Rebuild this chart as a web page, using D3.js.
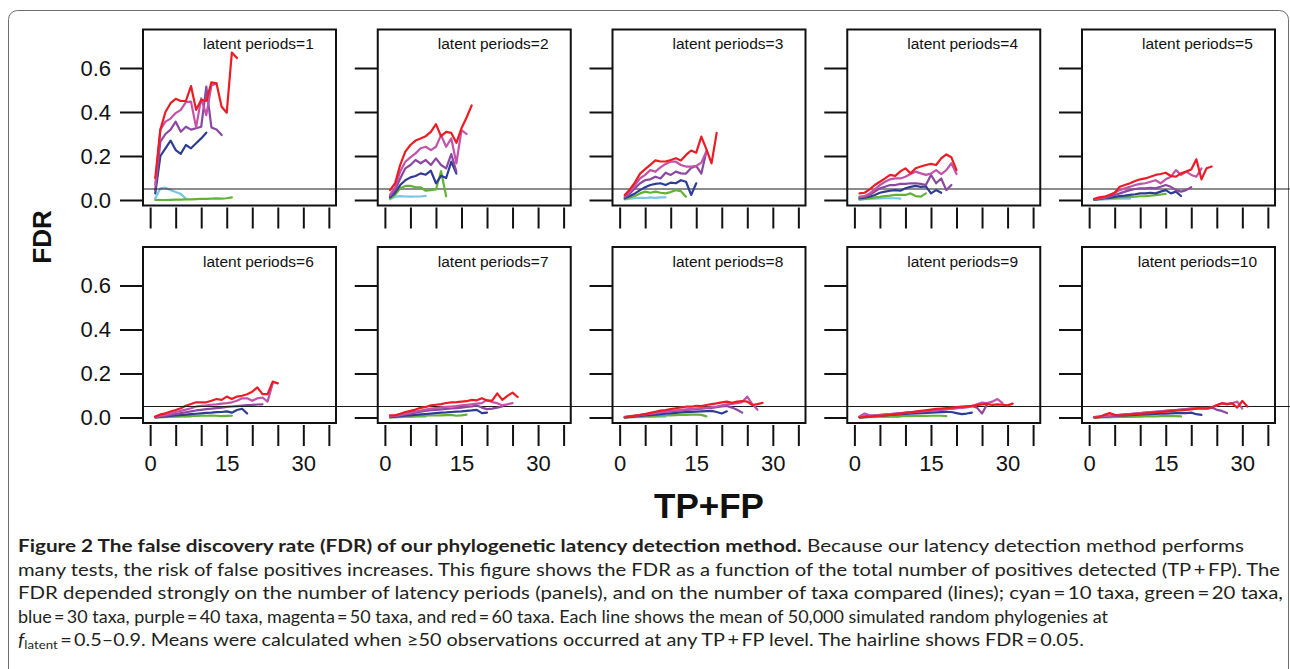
<!DOCTYPE html>
<html><head><meta charset="utf-8">
<script src="https://cdn.jsdelivr.net/npm/d3@7"></script>
<style>body{margin:0;background:#fff}</style>
</head><body>
<svg id="chart" width="1290" height="669"></svg>
<script>
// ---------------- DATA ----------------
const panelLabels = ["latent periods=1","latent periods=2","latent periods=3","latent periods=4","latent periods=5",
                     "latent periods=6","latent periods=7","latent periods=8","latent periods=9","latent periods=10"];
const xTicks = [0,5,10,15,20,25,30,35];
const xTickLabels = ["0","","","15","","","30",""];
const yTicks = [0,0.2,0.4,0.6];
const yTickLabels = ["0.0","0.2","0.4","0.6"];
const hairlineFDR = 0.05;
const firstTPFP = 1; // each series starts at TP+FP = 1, step 1
const seriesOrder = ["cyan","green","blue","purple","magenta","red"];

// FDR values per panel (latent periods 1..10), TP+FP = 1,2,3,...
const cyan = [
  [0.007,0.053,0.056,0.045,0.036,0.028,0.006],
  [0.003,0.015,0.018,0.016,0.015,0.016,0.016,0.019],
  [0.003,0.006,0.008,0.010,0.009,0.012,0.010,0.012,0.012],
  [0.002,0.004,0.005,0.006,0.007,0.008,0.008,0.008,0.006],
  [0.001,0.002,0.003,0.004,0.005,0.006,0.006,0.006],
  [0.001,0.002,0.002,0.003,0.003,0.004,0.004,0.004],
  [0.001,0.002,0.002,0.003,0.003,0.004,0.004,0.004],
  [0.001,0.001,0.002,0.002,0.003,0.003,0.003,0.004,0.004],
  [0.001,0.001,0.002,0.002,0.003,0.003,0.003,0.003,0.004],
  [0.001,0.001,0.002,0.002,0.002,0.003,0.003,0.003,0.003]
];
const green = [
  [0.000,0.000,0.000,0.001,0.002,0.002,0.003,0.003,0.004,0.005,0.005,0.006,0.007,0.006,0.008,0.012],
  [0.008,0.023,0.053,0.064,0.064,0.058,0.058,0.042,0.045,0.048,0.131,0.017],
  [0.005,0.012,0.018,0.030,0.038,0.033,0.038,0.033,0.030,0.036,0.045,0.040,0.015],
  [0.003,0.005,0.008,0.012,0.014,0.018,0.020,0.023,0.023,0.023,0.030,0.018,0.015,0.030],
  [0.002,0.004,0.006,0.008,0.010,0.012,0.013,0.014,0.015,0.017,0.018,0.020,0.022,0.025,0.028],
  [0.000,0.002,0.003,0.004,0.005,0.006,0.006,0.007,0.007,0.008,0.008,0.009,0.008,0.006,0.007,0.008],
  [0.001,0.002,0.003,0.004,0.005,0.006,0.007,0.008,0.009,0.009,0.010,0.011,0.012,0.008,0.010,0.013],
  [0.001,0.002,0.003,0.004,0.005,0.006,0.007,0.008,0.009,0.010,0.011,0.012,0.012,0.013,0.013,0.012,0.005],
  [0.001,0.002,0.003,0.003,0.004,0.004,0.005,0.005,0.006,0.006,0.006,0.007,0.007,0.007,0.008,0.008,0.008,0.006],
  [0.001,0.001,0.002,0.002,0.003,0.003,0.003,0.004,0.004,0.004,0.005,0.005,0.005,0.006,0.006,0.006,0.006,0.005]
];
const blue = [
  [0.030,0.200,0.235,0.270,0.227,0.210,0.250,0.235,0.258,0.280,0.306],
  [0.012,0.033,0.068,0.090,0.103,0.109,0.121,0.115,0.133,0.076,0.110,0.100,0.174,0.120],
  [0.008,0.018,0.030,0.045,0.058,0.068,0.073,0.076,0.068,0.079,0.076,0.090,0.083,0.023,0.076],
  [0.008,0.011,0.015,0.023,0.033,0.038,0.042,0.045,0.042,0.053,0.060,0.064,0.060,0.062,0.030,0.045,0.033],
  [0.002,0.005,0.008,0.010,0.014,0.018,0.020,0.023,0.026,0.030,0.030,0.033,0.030,0.038,0.045,0.030,0.038,0.018],
  [0.001,0.003,0.005,0.007,0.009,0.011,0.013,0.015,0.017,0.019,0.021,0.022,0.024,0.025,0.028,0.022,0.034,0.040,0.018],
  [0.002,0.004,0.006,0.008,0.010,0.012,0.014,0.016,0.018,0.020,0.022,0.023,0.025,0.027,0.028,0.030,0.032,0.035,0.020,0.022],
  [0.001,0.003,0.005,0.007,0.009,0.011,0.013,0.015,0.017,0.019,0.021,0.023,0.024,0.025,0.027,0.028,0.029,0.030,0.025,0.018,0.028],
  [0.001,0.003,0.005,0.007,0.008,0.010,0.012,0.013,0.015,0.016,0.018,0.019,0.020,0.021,0.022,0.023,0.024,0.025,0.025,0.020,0.015,0.018,0.022],
  [0.001,0.003,0.004,0.006,0.007,0.009,0.010,0.011,0.012,0.013,0.014,0.015,0.016,0.017,0.018,0.019,0.020,0.021,0.020,0.022,0.015,0.012]
];
const purple = [
  [0.045,0.265,0.300,0.320,0.356,0.310,0.333,0.320,0.326,0.333,0.515,0.330,0.320,0.295],
  [0.018,0.045,0.098,0.144,0.159,0.182,0.167,0.182,0.159,0.189,0.159,0.144,0.209,0.129],
  [0.012,0.030,0.053,0.076,0.090,0.094,0.106,0.098,0.124,0.114,0.129,0.121,0.120,0.145,0.155,0.120,0.222],
  [0.012,0.015,0.023,0.038,0.053,0.060,0.068,0.068,0.073,0.073,0.076,0.076,0.073,0.068,0.114,0.076,0.098,0.045,0.068],
  [0.003,0.006,0.010,0.015,0.023,0.030,0.038,0.045,0.050,0.053,0.053,0.055,0.053,0.060,0.068,0.060,0.045,0.038,0.045,0.058],
  [0.002,0.005,0.008,0.012,0.016,0.020,0.024,0.028,0.032,0.035,0.038,0.040,0.043,0.045,0.048,0.050,0.052,0.054,0.056,0.057,0.059,0.060],
  [0.004,0.007,0.010,0.014,0.018,0.022,0.026,0.030,0.033,0.035,0.037,0.039,0.041,0.043,0.045,0.048,0.050,0.055,0.045,0.038,0.040,0.045,0.050],
  [0.002,0.005,0.008,0.011,0.014,0.017,0.020,0.023,0.026,0.028,0.030,0.032,0.034,0.036,0.038,0.040,0.042,0.044,0.047,0.050,0.053,0.045,0.035,0.022],
  [0.003,0.005,0.007,0.009,0.011,0.013,0.015,0.017,0.019,0.021,0.023,0.025,0.027,0.029,0.031,0.033,0.035,0.037,0.040,0.042,0.045,0.050,0.052,0.045,0.018,0.060],
  [0.002,0.004,0.006,0.008,0.010,0.012,0.014,0.016,0.018,0.020,0.022,0.024,0.026,0.028,0.030,0.032,0.034,0.036,0.038,0.040,0.041,0.042,0.040,0.045,0.035,0.030,0.020]
];
const magenta = [
  [0.070,0.320,0.356,0.370,0.395,0.410,0.445,0.447,0.330,0.462,0.386,0.520,0.530],
  [0.023,0.058,0.130,0.174,0.194,0.212,0.235,0.242,0.227,0.242,0.295,0.242,0.280,0.167,0.318,0.300],
  [0.018,0.038,0.068,0.098,0.114,0.136,0.129,0.148,0.164,0.174,0.174,0.159,0.152,0.152,0.155,0.170,0.222],
  [0.015,0.018,0.030,0.048,0.068,0.083,0.094,0.098,0.098,0.106,0.118,0.129,0.121,0.114,0.120,0.136,0.118,0.136,0.167,0.118],
  [0.003,0.008,0.012,0.023,0.033,0.045,0.053,0.060,0.068,0.073,0.076,0.083,0.090,0.076,0.094,0.106,0.136,0.114,0.129,0.114,0.106,0.144],
  [0.003,0.008,0.012,0.018,0.025,0.030,0.036,0.042,0.050,0.053,0.055,0.058,0.060,0.063,0.065,0.069,0.076,0.087,0.087,0.076,0.087,0.091,0.072,0.155],
  [0.005,0.008,0.012,0.017,0.022,0.027,0.032,0.036,0.040,0.043,0.046,0.048,0.050,0.052,0.055,0.057,0.060,0.063,0.065,0.080,0.070,0.065,0.055,0.060,0.065],
  [0.003,0.006,0.009,0.012,0.015,0.018,0.021,0.024,0.027,0.030,0.033,0.035,0.037,0.039,0.041,0.043,0.045,0.047,0.050,0.055,0.060,0.062,0.065,0.070,0.095,0.060,0.035],
  [0.005,0.018,0.010,0.010,0.012,0.014,0.016,0.018,0.020,0.022,0.024,0.026,0.028,0.030,0.032,0.034,0.036,0.038,0.040,0.042,0.044,0.046,0.050,0.060,0.068,0.066,0.072,0.084,0.065],
  [0.002,0.004,0.006,0.008,0.010,0.012,0.014,0.016,0.018,0.020,0.022,0.024,0.026,0.028,0.030,0.032,0.034,0.036,0.038,0.040,0.042,0.044,0.043,0.045,0.055,0.065,0.060,0.065,0.072,0.040]
];
const red = [
  [0.100,0.320,0.400,0.440,0.460,0.450,0.450,0.518,0.410,0.455,0.450,0.535,0.530,0.424,0.397,0.670,0.645],
  [0.045,0.076,0.160,0.220,0.250,0.270,0.280,0.290,0.310,0.345,0.290,0.310,0.305,0.260,0.326,0.375,0.430],
  [0.023,0.048,0.080,0.120,0.140,0.160,0.180,0.175,0.175,0.182,0.190,0.180,0.205,0.225,0.215,0.288,0.230,0.167,0.305],
  [0.030,0.033,0.048,0.068,0.083,0.098,0.114,0.110,0.130,0.144,0.121,0.144,0.152,0.159,0.164,0.159,0.189,0.207,0.194,0.136],
  [0.005,0.012,0.015,0.023,0.033,0.060,0.068,0.076,0.086,0.094,0.098,0.106,0.114,0.118,0.124,0.109,0.106,0.121,0.129,0.139,0.185,0.094,0.144,0.152],
  [0.004,0.014,0.019,0.027,0.034,0.042,0.053,0.061,0.069,0.069,0.069,0.076,0.084,0.080,0.095,0.084,0.095,0.099,0.106,0.117,0.137,0.106,0.106,0.163,0.155],
  [0.010,0.010,0.017,0.025,0.030,0.036,0.044,0.048,0.055,0.058,0.061,0.066,0.069,0.070,0.072,0.074,0.080,0.078,0.088,0.077,0.077,0.110,0.080,0.098,0.113,0.093],
  [0.000,0.004,0.008,0.011,0.016,0.021,0.026,0.031,0.034,0.038,0.042,0.046,0.049,0.049,0.053,0.052,0.057,0.061,0.064,0.069,0.072,0.067,0.072,0.075,0.072,0.057,0.061,0.067],
  [0.000,0.002,0.004,0.006,0.008,0.010,0.012,0.015,0.018,0.021,0.024,0.027,0.030,0.033,0.036,0.039,0.041,0.043,0.045,0.047,0.049,0.051,0.053,0.056,0.060,0.062,0.057,0.060,0.058,0.055,0.063],
  [0.000,0.002,0.012,0.020,0.012,0.009,0.011,0.013,0.015,0.017,0.019,0.021,0.023,0.025,0.027,0.029,0.031,0.033,0.035,0.037,0.040,0.042,0.041,0.045,0.057,0.064,0.062,0.064,0.045,0.075,0.050]
];
const seriesData = {cyan, green, blue, purple, magenta, red};
const seriesColors = {cyan:"#78c6e3", green:"#62b236", blue:"#2e3c93", purple:"#8a48a0", magenta:"#c352a8", red:"#ec1c24"};

const captionLines = [
  [{t:"Figure 2 The false discovery rate (FDR) of our phylogenetic latency detection method.", b:true},{t:" Because our latency detection method performs"}],
  [{t:"many tests, the risk of false positives increases. This figure shows the FDR as a function of the total number of positives detected (TP\u2009+\u2009FP). The"}],
  [{t:"FDR depended strongly on the number of latency periods (panels), and on the number of taxa compared (lines); cyan\u2009=\u200910 taxa, green\u2009=\u200920 taxa,"}],
  [{t:"blue\u2009=\u200930 taxa, purple\u2009=\u200940 taxa, magenta\u2009=\u200950 taxa, and red\u2009=\u200960 taxa. Each line shows the mean of 50,000 simulated random phylogenies at"}],
  [{t:"f", i:true},{t:"latent", sub:true},{t:"\u2009=\u20090.5\u20130.9. Means were calculated when \u226550 observations occurred at any TP\u2009+\u2009FP level. The hairline shows FDR\u2009=\u20090.05."}]
];
const captionWidths = [1226, 1262, 1265, 1090, 1066];

// ---------------- LAYOUT ----------------
const svg = d3.select("#chart");
const W = 1290, H = 669;
svg.append("rect").attr("x",8.5).attr("y",10.5).attr("width",1280).attr("height",700)
   .attr("rx",9).attr("fill","none").attr("stroke","#6d6e71").attr("stroke-width",1);

const colStep = 234.75, boxW = 193, boxH = 176;
const rowTops = [29.5, 247];
const plotFont = "'Liberation Sans', Arial, Helvetica, sans-serif";

panelLabels.forEach((lab, i) => {
  const row = Math.floor(i/5), col = i%5;
  const left = 143 + col*colStep, top = rowTops[row];
  const x = d3.scaleLinear().domain([-1.4, 36.4]).range([left, left+boxW]);
  const y = d3.scaleLinear().domain([-0.025, 0.775]).range([top+boxH, top]);
  const g = svg.append("g");

  const line = d3.line().x((d,j)=>x(firstTPFP + j)).y(d=>y(d));
  seriesOrder.forEach(s => {
    g.append("path").attr("d", line(seriesData[s][i]))
      .attr("fill","none").attr("stroke", seriesColors[s]).attr("stroke-width",2.2)
      .attr("stroke-linejoin","round").attr("stroke-linecap","round");
  });

  g.append("rect").attr("x",left).attr("y",top).attr("width",boxW).attr("height",boxH)
    .attr("fill","none").attr("stroke","#111").attr("stroke-width",2);

  const ya = d3.axisLeft(y).tickValues(yTicks).tickSize(23).tickSizeOuter(0).tickPadding(9)
    .tickFormat((d,k)=> col===0 ? yTickLabels[k] : "");
  const yg = g.append("g").attr("transform",`translate(${left},0)`).call(ya);
  yg.select(".domain").remove();
  yg.selectAll("line").attr("stroke","#111").attr("stroke-width",2);
  yg.selectAll("text").attr("font-family",plotFont).attr("font-size",22).attr("fill","#111");

  const xa = d3.axisBottom(x).tickValues(xTicks).tickSize(21).tickSizeOuter(0).tickPadding(9)
    .tickFormat((d,k)=> row===1 ? xTickLabels[k] : "");
  const xg = g.append("g").attr("transform",`translate(0,${top+boxH+2})`).call(xa);
  xg.select(".domain").remove();
  xg.selectAll("line").attr("stroke","#111").attr("stroke-width",2);
  xg.selectAll("text").attr("font-family",plotFont).attr("font-size",22).attr("fill","#111");

  g.append("text").attr("x", x(21.2)).attr("y", y(0.71)).attr("dy","0.35em")
    .attr("text-anchor","middle").attr("font-family",plotFont).attr("font-size",15.5)
    .attr("fill","#111").text(lab);

  if (col===0) {
    svg.append("line").attr("x1",left).attr("x2",W).attr("y1",y(hairlineFDR)).attr("y2",y(hairlineFDR))
      .attr("stroke","#1a1a1a").attr("stroke-width",1);
  }
});

svg.append("text").attr("transform","translate(42,237) rotate(-90)")
  .attr("text-anchor","middle").attr("dominant-baseline","central")
  .attr("font-family",plotFont).attr("font-weight","bold").attr("font-size",26).attr("fill","#111").text("FDR");
svg.append("text").attr("x",709).attr("y",505)
  .attr("text-anchor","middle").attr("dominant-baseline","central")
  .attr("font-family",plotFont).attr("font-weight","bold").attr("font-size",35).attr("fill","#111").text("TP+FP");

const capFont = "Lato, 'Open Sans', sans-serif";
const baseY = [552, 576, 599, 623, 646];
captionLines.forEach((ln, k) => {
  const t = svg.append("text").attr("x",18).attr("y",baseY[k])
    .attr("font-family",capFont).attr("font-size",16.5).attr("fill","#231f20")
    .attr("textLength", captionWidths[k]).attr("lengthAdjust","spacingAndGlyphs");
  ln.forEach(p => {
    const ts = t.append("tspan").text(p.t);
    if (p.b) ts.attr("font-weight","bold");
    if (p.i) ts.attr("font-style","italic");
    if (p.sub) ts.attr("font-size",11).attr("baseline-shift","-3");
  });
});
</script>
</body></html>
